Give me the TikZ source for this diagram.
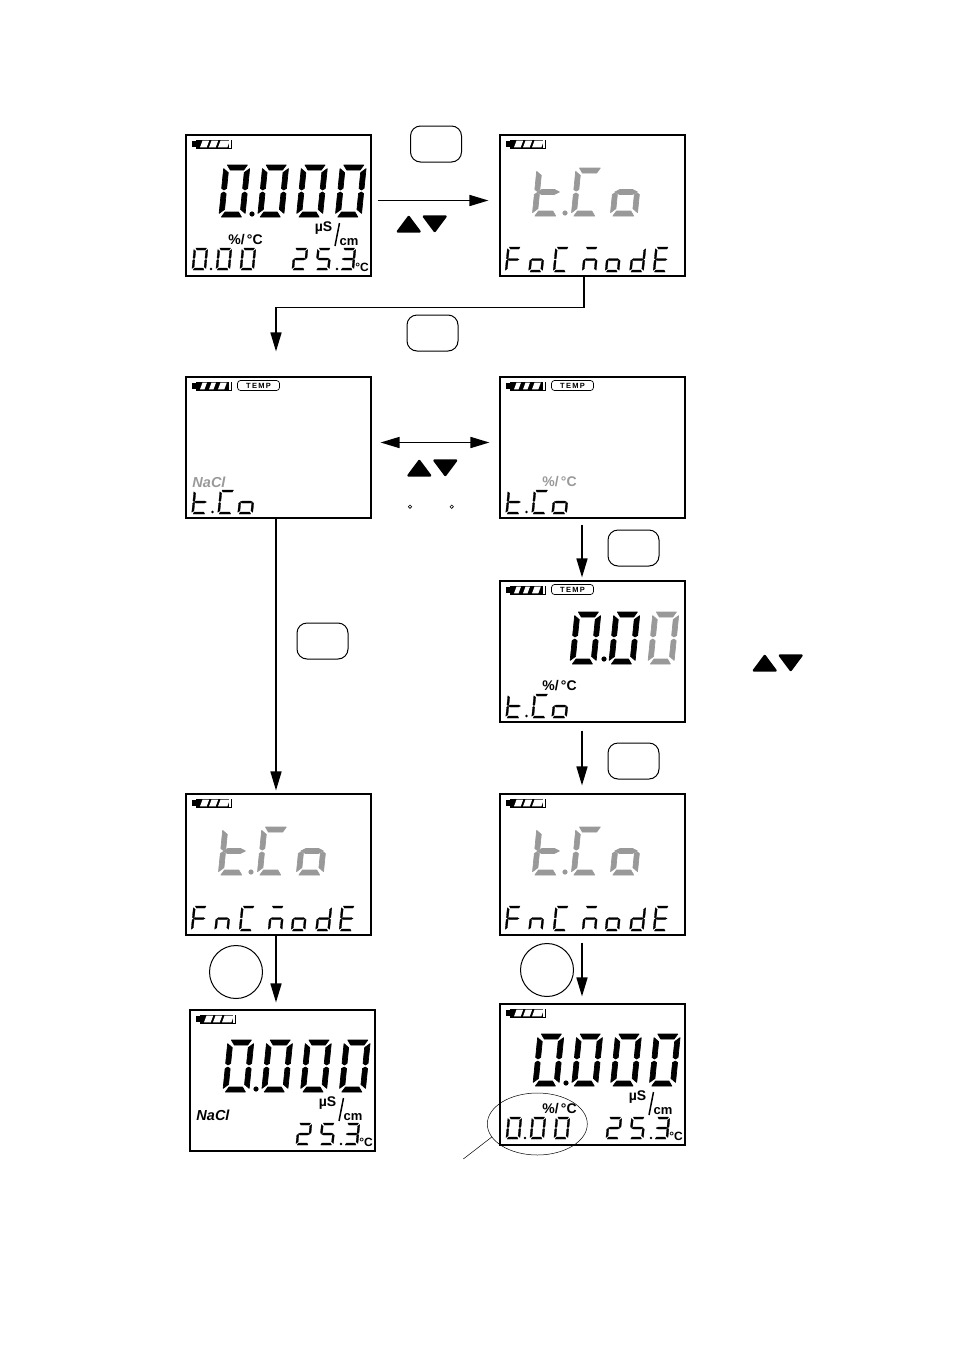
\documentclass[tikz,border=0pt]{standalone}
\usepackage{fontspec}
\setmainfont{Liberation Sans}
\usetikzlibrary{arrows.meta,shapes.geometric}
\definecolor{lcdgray}{gray}{.6}
\tikzset{
  lcdbox/.style={draw,line width=1.1pt,minimum width=185pt,minimum height=141pt,inner sep=0pt},
  keybox/.style={draw,line width=1pt,rounded corners=10pt,minimum width=51pt,minimum height=36pt,inner sep=0pt},
  keyround/.style={draw,circle,line width=1pt,minimum size=53pt,inner sep=0pt},
  flowarrow/.style={line width=1.6pt,-{Triangle[length=19pt,width=11pt]}},
  lcdtext/.style={inner sep=0pt,font=\bfseries\fontsize{#1}{#1}\selectfont},
  tempbadge/.style={draw,line width=.7pt,rounded corners=3pt,minimum width=42pt,minimum height=10pt,inner sep=0pt,font=\bfseries\fontsize{7.5}{8}\selectfont},
  degmark/.style={draw,circle,line width=.6pt,minimum size=3.4pt,inner sep=0pt},
  markring/.style={draw,ellipse,line width=.5pt,minimum width=100pt,minimum height=62pt,inner sep=0pt}
}
\begin{document}
\begin{tikzpicture}[x=1pt,y=-1pt]
      \useasboundingbox (0,0) rectangle (954,1352);
      % segments of one digit, 1 wide and 2 high
      \def\sega{\filldraw (.13,0)--(.9,0)--({.97-\tx},\ty)--({.07+\tx},\ty)--cycle;}
      \def\segb{\filldraw (1,.14)--(1,.9)--({1-.5*\tx},.96)--({1-\tx},.9)--({1-\tx},{\ty+.1})--cycle;}
      \def\segc{\filldraw (1,1.86)--(1,1.1)--({1-.5*\tx},1.04)--({1-\tx},1.1)--({1-\tx},{1.9-\ty})--cycle;}
      \def\segd{\filldraw (.1,2)--(.87,2)--({.93-\tx},{2-\ty})--({.03+\tx},{2-\ty})--cycle;}
      \def\sege{\filldraw (0,1.86)--(0,1.1)--({.5*\tx},1.04)--(\tx,1.1)--(\tx,{1.9-\ty})--cycle;}
      \def\segf{\filldraw (0,.14)--(0,.9)--({.5*\tx},.96)--(\tx,.9)--(\tx,{\ty+.1})--cycle;}
      \def\segg{\filldraw (.08,1)--({.08+\tx},{1-.5*\ty})--({.92-\tx},{1-.5*\ty})--(.92,1)--({.92-\tx},{1+.5*\ty})--({.08+\tx},{1+.5*\ty})--cycle;}
      \def\dZero{a,b,c,d,e,f} \def\dTwo{a,b,d,e,g} \def\dThree{a,b,c,d,g} \def\dFive{a,c,d,f,g}
      \def\dTee{d,e,f,g} \def\dCee{a,d,e,f} \def\dOh{c,d,e,g} \def\dEff{a,e,f,g}
      \def\dEn{c,e,g} \def\dEmm{a,c,e,g} \def\dDee{b,c,d,e,g} \def\dEe{a,d,e,f,g}
      \newcommand{\drawDigits}[6]{ % y, width, height, stroke, colour, x/segments
        \pgfmathsetmacro{\tx}{#4/#2} \pgfmathsetmacro{\ty}{2*#4/#3}
        \foreach \xx/\yy in {#6} { \edef\segs{\yy}
          \begin{scope}[shift={(\xx,#1)},xslant=.1,xscale=#2,yscale=#3/2,color=#5,line join=round,line width=#4*.14pt]
            \foreach \s in \segs {\csname seg\s\endcsname}
          \end{scope} } }
      \newcommand{\drawBattery}[1]{ % #1: width of the white cells
        \fill (5.5,6) rectangle (10,11.5); \fill (10,4.5) rectangle (46,13.5);
        \fill[white] (45,12.6) -- (45,5.4) -- (43,5.4) -- (43,12.6) -- cycle;
        \foreach \cx/\cw in {14/#1,23/#1,32/{#1*1.4}} {\fill[white] (\cx,12.4) -- ++(\cw,0) -- ++(2.5,-6.8) -- ++(-\cw,0) -- cycle;} }
      \newcommand{\drawScreen}[5]{ \node[lcdbox] (#1) at (#2+92.5,#3+70.5) {};
        \begin{scope}[shift={(#2,#3)}]
          \drawBattery{#4} #5
        \end{scope} }
      \newcommand{\drawTemp}[1]{\node[tempbadge] (#1temp) at (72.5,8.5) {T\,E\,M\,P};}
      \newcommand{\drawRate}[2]{\node[lcdtext=14,text=#2] (#1rate) at (59.5,105) {\%/\,°C};}
      \newcommand{\drawSalt}[2]{\node[lcdtext=14.5,text=#2] (#1salt) at (23,105) {\itshape NaCl};}
      \newcommand{\drawMeasure}[1]{
        \drawDigits{30}{26}{52}{5}{black}{38/\dZero,76.8/\dZero,115.6/\dZero,154.4/\dZero}
        \fill (66,79) circle (2.6);
        \node[lcdtext=14] (#1mu) at (137.5,93) {µS};
        \node[lcdtext=13] (#1cm) at (163,107) {cm};
        \draw[line width=1.5pt] (153.5,88) -- (149,111);
        \drawDigits{113}{14}{22}{2}{black}{108/\dTwo,131.5/\dFive,156/\dThree}
        \fill (151,134) circle (1.3);
        \node[lcdtext=12] (#1unit) at (176,132.5) {°C}; }
      \newcommand{\drawLow}[1]{
        \drawDigits{113}{14}{22}{2}{black}{8/\dZero,32/\dZero,56/\dZero}
        \fill (25,134) circle (1.3); }
      \newcommand{\drawTco}{
        \drawDigits{113}{15}{24}{2}{black}{8/\dTee,34/\dCee,54/\dOh}
        \fill (26.5,135) circle (1.3); }
      \newcommand{\drawBigTco}{
        \drawDigits{33}{27}{48}{5}{lcdgray}{37/\dTee,76/\dCee,115/\dOh}
        \fill[lcdgray] (65,78) circle (2.6); }
      \newcommand{\drawMode}[1]{
        \drawDigits{112}{14}{25}{2}{black}{7.5/\dEff,31/#1,55.5/\dCee,84.5/\dEmm,107.5/\dOh,132/\dDee,155.5/\dEe} }
      \newcommand{\drawKeys}[2]{ % up and down marks, from left edge and top edge
        \filldraw[line width=2.4pt,line join=round] (#1+2.9,#2+16.5) -- (#1+13.7,#2+2) -- (#1+24.5,#2+16.5) -- cycle;
        \filldraw[line width=2.4pt,line join=round] (#1+28.9,#2+1.5) -- (#1+39.7,#2+16) -- (#1+50.5,#2+1.5) -- cycle; }

      \drawScreen{scrStart}{186}{135}{6.7}{\drawMeasure{scrStart} \drawRate{scrStart}{black} \drawLow{scrStart}}
      \drawScreen{scrFoc}{500}{135}{6.7}{\drawBigTco \drawMode{\dOh}}
      \drawScreen{scrSalt}{186}{377}{4.5}{\drawTemp{scrSalt} \drawSalt{scrSalt}{lcdgray} \drawTco}
      \drawScreen{scrRate}{500}{377}{4.5}{\drawTemp{scrRate} \drawRate{scrRate}{lcdgray} \drawTco}
      \drawScreen{scrEdit}{500}{581}{4.5}{\drawTemp{scrEdit} \drawRate{scrEdit}{black} \drawTco
        \drawDigits{31}{26}{52}{5}{black}{75/\dZero,114/\dZero}
        \drawDigits{31}{26}{52}{5}{lcdgray}{153/\dZero}
        \fill (104,78) circle (2.6);}
      \drawScreen{scrFnL}{186}{794}{6.7}{\drawBigTco \drawMode{\dEn}}
      \drawScreen{scrFnR}{500}{794}{6.7}{\drawBigTco \drawMode{\dEn}}
      \drawScreen{scrEndL}{190}{1010}{6.7}{\drawMeasure{scrEndL} \drawSalt{scrEndL}{black}}
      \drawScreen{scrEndR}{500}{1004}{6.7}{\drawMeasure{scrEndR} \drawRate{scrEndR}{black} \drawLow{scrEndR}}

      \node[keybox] (keyA) at (436,144) {};
      \node[keybox] (keyB) at (432.5,333) {};
      \node[keybox] (keyC) at (322.5,641) {};
      \node[keybox] (keyD) at (633.5,548) {};
      \node[keybox] (keyE) at (633.5,761) {};
      \node[keyround] (keyF) at (236,972) {};
      \node[keyround] (keyG) at (547,970) {};
      \drawKeys{395}{215}
      \drawKeys{405.6}{459}
      \drawKeys{751}{654}
      \node[degmark] (degA) at (410,506.7) {};
      \node[degmark] (degB) at (451.7,506.7) {};

      \draw[flowarrow,shorten <=6pt,shorten >=11pt] ([yshift=5pt]scrStart.east) -- ([yshift=5pt]scrFoc.west);
      \draw[flowarrow,shorten >=25pt] ([xshift=-8.5pt]scrFoc.south) -- ++(0,31) -| ([xshift=-2.5pt]scrSalt.north);
      \draw[flowarrow,{Triangle[length=19pt,width=11pt]}-{Triangle[length=19pt,width=11pt]},shorten <=9pt,shorten >=10pt] ([yshift=5pt]scrSalt.east) -- ([yshift=5pt]scrRate.west);
      \draw[flowarrow,shorten >=3pt] ([xshift=-2.5pt]scrSalt.south) -- ([xshift=-2.5pt]scrFnL.north);
      \draw[flowarrow,shorten <=6pt,shorten >=3pt] ([xshift=-10.5pt]scrRate.south) -- ([xshift=-10.5pt]scrEdit.north);
      \draw[flowarrow,shorten <=8pt,shorten >=8pt] ([xshift=-10.5pt]scrEdit.south) -- ([xshift=-10.5pt]scrFnR.north);
      \draw[flowarrow,shorten >=7pt] ([xshift=-2.5pt]scrFnL.south) -- ([xshift=-6.5pt]scrEndL.north);
      \draw[flowarrow,shorten <=7pt,shorten >=7pt] ([xshift=-10.5pt]scrFnR.south) -- ([xshift=-10.5pt]scrEndR.north);

      % ring round the lower left reading
      \node[markring] (ring) at (537.3,1124) {};
      \coordinate (ringEnd) at (463.3,1159);
      \draw[line width=.5pt] (ringEnd) -- (ring.196);
    \end{tikzpicture}
\end{document}
